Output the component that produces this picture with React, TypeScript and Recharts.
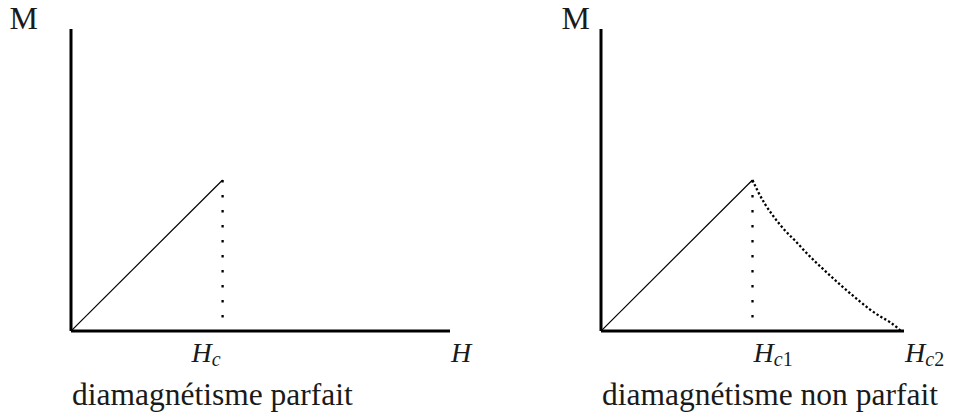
import { LineChart, Line, XAxis, YAxis, Label } from 'recharts';

// field H in units of Hc (Hc1 on the right), magnetisation M (absolute value)
const H_RISE = [0, 1];
const M_RISE = [0, 1];

const H_DROP = [1, 1];
const M_DROP = [0.09, 1];

const H_MIXED = [
  1, 1.038, 1.083, 1.127, 1.17, 1.215, 1.281, 1.347, 1.413, 1.479, 1.578, 1.644, 1.71, 1.776,
  1.842, 1.908, 1.962, 1.978,
];
const M_MIXED = [
  1, 0.92, 0.84, 0.775, 0.718, 0.665, 0.598, 0.527, 0.46, 0.398, 0.307, 0.25, 0.195, 0.142,
  0.097, 0.058, 0.016, 0,
];

const LEFT_TICKS = [1, 2.5];
const LEFT_TICK_LABELS = [['H', 'c', ''], ['H', '', '']];
const RIGHT_TICKS = [1, 2];
const RIGHT_TICK_LABELS = [['H', 'c', '1'], ['H', 'c', '2']];

const LEFT_CAPTION = 'diamagnétisme parfait';
const RIGHT_CAPTION = 'diamagnétisme non parfait';
const Y_TITLE = 'M';

const zip = (hs: number[], ms: number[]) => hs.map((H, i) => ({ H, M: ms[i] }));

const FONT = '"Liberation Serif", "Times New Roman", serif';
const INK = '#1a1a1a';
const PLOT_TOP = 29;
const PLOT_BOTTOM = 331;
const CHART_H = 417;
const AXIS_W = 71;

type PanelProps = {
  left: number;
  width: number;
  marginRight: number;
  xMax: number;
  ticks: number[];
  tickLabels: string[][];
  firstAnchor: 'start' | 'end';
  titleRight: number;
  caption: string;
  withCurve: boolean;
};

const Panel = ({
  left,
  width,
  marginRight,
  xMax,
  ticks,
  tickLabels,
  firstAnchor,
  titleRight,
  caption,
  withCurve,
}: PanelProps) => {
  const renderTick = (props: any) => {
    const { x, payload } = props;
    const i = ticks.indexOf(payload.value);
    if (i < 0) return <g />;
    const [main, sub, digit] = tickLabels[i];
    const anchor = i === 0 ? firstAnchor : 'start';
    const tx = anchor === 'end' ? x - 2 : x + 1;
    return (
      <text
        x={tx}
        y={PLOT_BOTTOM + 31}
        textAnchor={anchor}
        fontFamily={FONT}
        fontSize={28}
        fill={INK}
      >
        <tspan fontStyle="italic">{main}</tspan>
        {sub && (
          <tspan fontStyle="italic" fontSize={20} dy={4}>
            {sub}
          </tspan>
        )}
        {digit && <tspan fontSize={20}>{digit}</tspan>}
      </text>
    );
  };

  const renderCaption = () => (
    <text x={AXIS_W + 1} y={405} fontFamily={FONT} fontSize={31.5} fill={INK}>
      {caption}
    </text>
  );

  const renderTitle = () => (
    <text
      x={titleRight}
      y={PLOT_TOP}
      textAnchor="end"
      fontFamily={FONT}
      fontSize={32}
      fill={INK}
    >
      {Y_TITLE}
    </text>
  );

  return (
    <div style={{ position: 'absolute', left, top: 0 }}>
      <LineChart
        width={width}
        height={CHART_H}
        margin={{ top: PLOT_TOP, right: marginRight, left: 0, bottom: CHART_H - PLOT_BOTTOM - 40 }}
      >
        <XAxis
          type="number"
          dataKey="H"
          domain={[0, xMax]}
          ticks={ticks}
          interval={0}
          tick={renderTick}
          tickLine={false}
          axisLine={{ stroke: '#000', strokeWidth: 3 }}
          height={40}
          allowDataOverflow
        >
          <Label content={renderCaption} />
        </XAxis>
        <YAxis
          type="number"
          domain={[0, 2]}
          width={AXIS_W}
          tick={false}
          tickLine={false}
          axisLine={{ stroke: '#000', strokeWidth: 3 }}
          allowDataOverflow
        >
          <Label content={renderTitle} />
        </YAxis>
        <Line
          data={zip(H_DROP, M_DROP)}
          dataKey="M"
          type="linear"
          stroke="#000"
          strokeWidth={2.3}
          strokeDasharray="2.3 12.7"
          dot={false}
          activeDot={false}
          isAnimationActive={false}
        />
        {withCurve && (
          <Line
            data={zip(H_MIXED, M_MIXED)}
            dataKey="M"
            type="monotone"
            stroke="#000"
            strokeWidth={2.3}
            strokeDasharray="2.3 2.2"
            dot={false}
            activeDot={false}
            isAnimationActive={false}
          />
        )}
        <Line
          data={zip(H_RISE, M_RISE)}
          dataKey="M"
          type="linear"
          stroke="#000"
          strokeWidth={1.2}
          dot={false}
          activeDot={false}
          isAnimationActive={false}
        />
      </LineChart>
    </div>
  );
};

export default function App() {
  return (
    <div style={{ position: 'absolute', left: 0, top: 0, width: 953, height: 417, background: '#fff' }}>
      <Panel
        left={0}
        width={476}
        marginRight={26}
        xMax={2.5}
        ticks={LEFT_TICKS}
        tickLabels={LEFT_TICK_LABELS}
        firstAnchor="end"
        titleRight={38}
        caption={LEFT_CAPTION}
        withCurve={false}
      />
      <Panel
        left={530}
        width={423}
        marginRight={49}
        xMax={2}
        ticks={RIGHT_TICKS}
        tickLabels={RIGHT_TICK_LABELS}
        firstAnchor="start"
        titleRight={60}
        caption={RIGHT_CAPTION}
        withCurve
      />
    </div>
  );
}
